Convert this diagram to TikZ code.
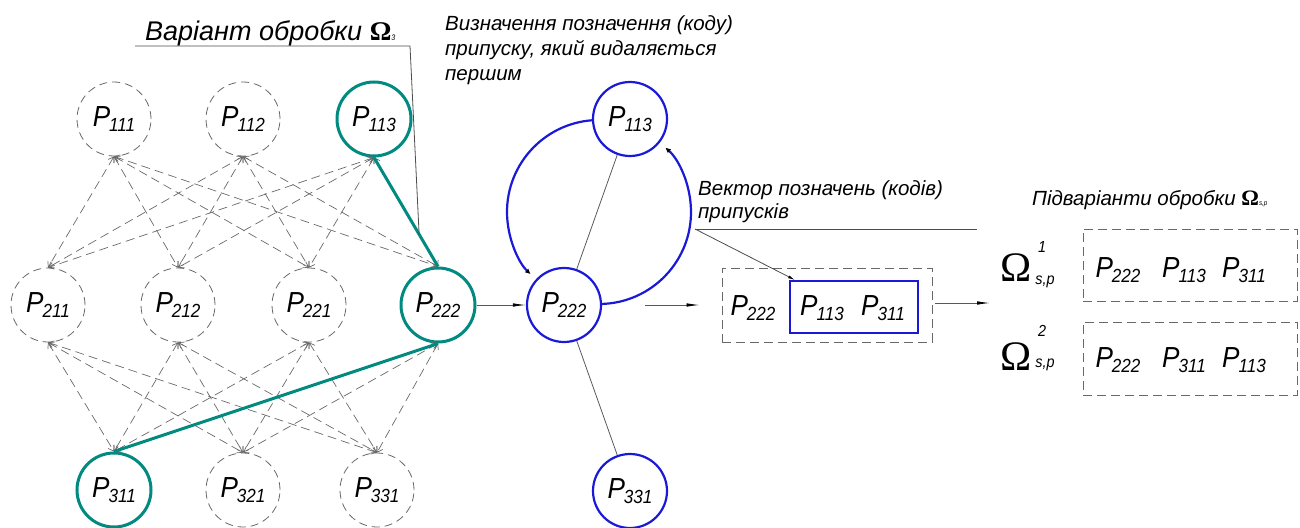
\documentclass[tikz,border=0pt]{standalone}
\usepackage{fontspec}
\usetikzlibrary{arrows.meta,calc}
\newfontfamily\gost[FakeStretch=0.9]{Liberation Sans}
\newfontfamily\gostw{Liberation Sans}
\newfontfamily\grk{Liberation Serif}
\definecolor{netgray}{RGB}{105,105,105}
\definecolor{pathteal}{RGB}{0,138,128}
\definecolor{pblue}{RGB}{25,25,215}
% P with a lowered index, drafting style
\newcommand{\pl}[1]{{\gost\itshape\fontsize{29}{29}\selectfont P\kern-1pt\raisebox{-4.5pt}{\fontsize{19}{19}\selectfont #1}}}
\newcommand{\lbltext}[1]{{\gostw\itshape\fontsize{20.5}{20.5}\selectfont #1}}
\begin{document}
\begin{tikzpicture}[x=1pt,y=-1pt,
  pc/.style={circle, minimum size=74pt, inner sep=0pt},
  dashc/.style={pc, draw=netgray, line width=0.8pt, dash pattern=on 8pt off 5pt},
  tealc/.style={pc, draw=pathteal, line width=3pt},
  bluec/.style={pc, draw=pblue, line width=2.2pt},
  net/.style={draw=netgray, line width=0.7pt, dash pattern=on 9pt off 5pt,
    {Straight Barb[length=5pt,width=7pt]}-{Straight Barb[length=5pt,width=7pt]}},
  hop/.style={draw=pathteal, line width=3pt},
  thinl/.style={draw=black!65, line width=0.8pt},
  flow/.style={thinl, -{Latex[length=13pt,width=3.5pt,color=black]}},
  loop/.style={draw=pblue, line width=2.2pt, -{Latex[length=14pt,width=4pt,color=black]}},
  lead/.style={draw=black!70, line width=0.8pt},
  txt/.style={inner sep=0pt, anchor=base west},
  dbox/.style={draw=netgray, line width=0.9pt, dash pattern=on 9pt off 5pt, inner sep=0pt}
]
\useasboundingbox (0,0) rectangle (1300,527);

% ---- full graph of variants
\node[dashc] (n111) at (114,119) {\pl{111}};
\node[dashc] (n112) at (243,119) {\pl{112}};
\node[tealc] (n113) at (374,119) {\pl{113}};
\node[dashc] (n211) at (48,305) {\pl{211}};
\node[dashc] (n212) at (178,305) {\pl{212}};
\node[dashc] (n221) at (309,305) {\pl{221}};
\node[tealc] (n222) at (438,305) {\pl{222}};
\node[tealc] (n311) at (114,490) {\pl{311}};
\node[dashc] (n321) at (243,490) {\pl{321}};
\node[dashc] (n331) at (377,490) {\pl{331}};

\foreach \a in {n111,n112,n113}
  \foreach \b in {n211,n212,n221,n222}
    \draw[net] (\a.south) -- (\b.north);
\foreach \a in {n211,n212,n221,n222}
  \foreach \b in {n311,n321,n331}
    \draw[net] (\a.south) -- (\b.north);

\draw[hop] (n113.south) -- (n222.north);
\draw[hop] (n222.south) -- (n311.north);

% ---- title of the chosen variant with its leader
\node[txt] (ttl) at (145,41) {{\gostw\itshape\fontsize{27}{27}\selectfont Варіант обробки }{\grk\bfseries\fontsize{27}{27}\selectfont Ω}{\gost\itshape\fontsize{8}{8}\selectfont 3}};
\coordinate (u1) at (135,46);
\coordinate (u2) at (410,46);
\coordinate (tk) at ($(n113.south)!0.705!(n222.north)$);
\draw[lead] (u1) -- (u2) -- (tk);

% ---- choice of the first removed allowance
\node[txt] (q1) at (445,31) {\lbltext{Визначення позначення (коду)}};
\node[txt] (q2) at (445,56) {\lbltext{припуску, який видаляється}};
\node[txt] (q3) at (445,81) {\lbltext{першим}};

\node[bluec] (b113) at (630,119) {\pl{113}};
\node[bluec] (b222) at (564,305) {\pl{222}};
\node[bluec] (b331) at (630,491) {\pl{331}};
\draw[thinl] (b113) -- (b222);
\draw[thinl] (b222) -- (b331);
\coordinate (lc) at (599,212);
\draw[loop] ($(lc)+(266.3:92)$) arc[start angle=266.3, end angle=132.4, radius=92];
\draw[loop] ($(lc)+(88.8:92)$) arc[start angle=88.8, end angle=-49.5, radius=92];

\draw[flow] (n222) -- (b222);

% ---- vector of allowance codes
\node[dbox, minimum width=210pt, minimum height=74pt] (vec) at (827,305) {};
\node[draw=pblue, line width=2pt, inner sep=0pt, minimum width=128pt, minimum height=52pt] (sel) at (854,307) {};
\node (v1) at (753,308) {\pl{222}};
\node (v2) at (822,308) {\pl{113}};
\node (v3) at (883,308) {\pl{311}};
\draw[flow] ([xshift=43pt]b222.east) -- ([xshift=-22pt]vec.west);

\node[txt] (w1) at (698,195) {\lbltext{Вектор позначень (кодів)}};
\node[txt] (w2) at (698,218) {\lbltext{припусків}};
\coordinate (vl) at (695,229);
\coordinate (vr) at (977,229);
\draw[lead] (vl) -- (vr);
\draw[lead, -{Latex[length=7pt,width=3pt,color=black]}] (vl) -- ([xshift=6pt]sel.north west);

% ---- sub-variants
\coordinate (into) at (990,303);
\draw[flow] ([xshift=3pt]vec.east |- into) -- (into);

\node[txt] (h1) at (1032,205) {\lbltext{Підваріанти обробки }{\grk\bfseries\fontsize{22}{22}\selectfont Ω}{\gost\itshape\fontsize{7}{7}\selectfont s,p}};

\node[dbox, minimum width=214pt, minimum height=72pt] (s1) at (1190,265) {};
\node[dbox, minimum width=214pt, minimum height=73pt] (s2) at (1190,358.5) {};

\node[inner sep=0pt] (o1) at (1016,268) {\grk\fontsize{42}{42}\selectfont Ω};
\node[inner sep=0pt] (o1u) at (1042,247) {\gost\itshape\fontsize{16}{16}\selectfont 1};
\node[inner sep=0pt] (o1d) at (1045,282) {\gost\itshape\fontsize{16}{16}\selectfont s,p};
\node[inner sep=0pt] (o2) at (1016,357) {\grk\fontsize{42}{42}\selectfont Ω};
\node[inner sep=0pt] (o2u) at (1042,331) {\gost\itshape\fontsize{16}{16}\selectfont 2};
\node[inner sep=0pt] (o2d) at (1045,365) {\gost\itshape\fontsize{16}{16}\selectfont s,p};

\node (s11) at (1118,270) {\pl{222}};
\node (s12) at (1184,270) {\pl{113}};
\node (s13) at (1244,270) {\pl{311}};
\node (s21) at (1118,360) {\pl{222}};
\node (s22) at (1184,360) {\pl{311}};
\node (s23) at (1244,360) {\pl{113}};
\end{tikzpicture}
\end{document}
